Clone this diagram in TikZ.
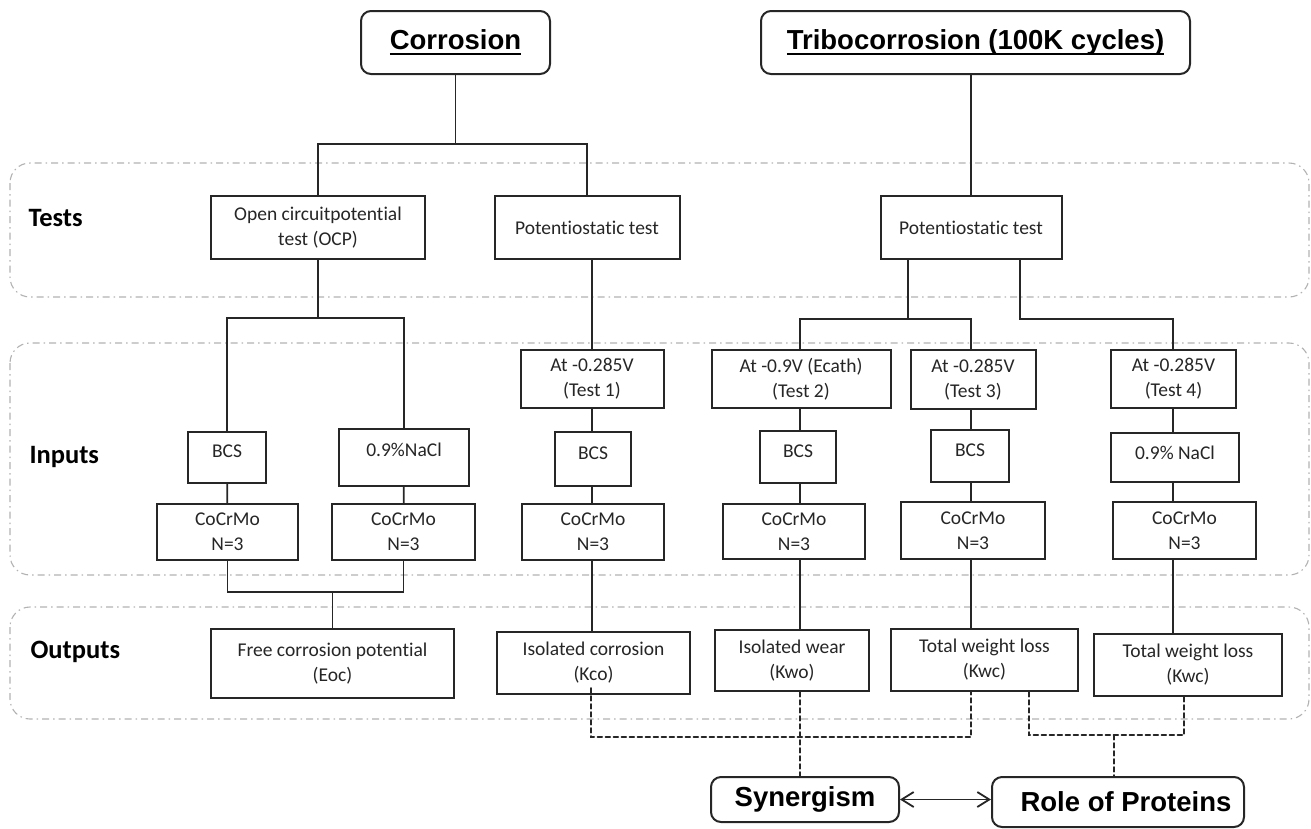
\documentclass[tikz,border=0pt]{standalone}
\usepackage{fontspec}
\setmainfont{Carlito}[RawFeature=-liga]
\newfontfamily\arialfont{Liberation Sans}
\usetikzlibrary{arrows.meta,backgrounds}
\newcommand{\ulhead}[1]{\sbox0{#1}\rlap{\usebox0}\rule[-6pt]{\wd0}{2.2pt}}

\begin{document}
\begin{tikzpicture}[x=1pt,y=-1pt,>={Straight Barb[length=12pt,width=15pt]},line cap=round,
  box/.style={draw=black!85,line width=2pt,fill=white,inner sep=0pt,align=center,text=black!85,font=\fontsize{19.5}{25}\selectfont},
  highbox/.style={box,text depth=12pt},
  headbox/.style={draw=black!85,line width=2pt,fill=white,rounded corners=10pt,inner sep=0pt,font=\arialfont\bfseries\fontsize{27.5}{30}\selectfont},
  band/.style={draw=black!30,line width=1.1pt,rounded corners=20pt,dash pattern=on 7pt off 4pt on 1.5pt off 4pt},
  rowlabel/.style={anchor=west,font=\bfseries\fontsize{26.5}{30}\selectfont},
  conn/.style={draw=black!85,line width=1.8pt},
  dconn/.style={draw=black!85,line width=2pt,dash pattern=on 4.5pt off 3.5pt}]
\useasboundingbox (0,0) rectangle (1311,828);
\node[headbox,minimum width=189pt,minimum height=63pt] (cor) at (455.5,42.5) {\ulhead{Corrosion}};
\node[headbox,minimum width=429pt,minimum height=63pt] (tri) at (975.5,42.5) {\ulhead{Tribocorrosion (100K cycles)}};
\node[rowlabel] (lbtests) at (25,218) {Tests};
\node[rowlabel] (lbinputs) at (26,457) {Inputs};
\node[rowlabel] (lboutputs) at (27,652) {Outputs};
\node[box,minimum width=214pt,minimum height=63pt] (ocp) at (318,227.5) {Open circuitpotential\\test (OCP)};
\node[box,minimum width=185pt,minimum height=63pt] (pot1) at (587,227.5) {Potentiostatic test};
\node[box,minimum width=181pt,minimum height=63pt] (pot2) at (971,227.5) {Potentiostatic test};
\node[box,minimum width=143pt,minimum height=58pt] (t1) at (592,379) {At -0.285V\\(Test 1)};
\node[box,minimum width=179pt,minimum height=58pt] (t2) at (801,379) {At -0.9V (Ecath)\\(Test 2)};
\node[box,minimum width=125pt,minimum height=59pt] (t3) at (973,379.5) {At -0.285V\\(Test 3)};
\node[box,minimum width=125pt,minimum height=58pt] (t4) at (1173.5,379) {At -0.285V\\(Test 4)};
\node[highbox,minimum width=78pt,minimum height=51pt] (bcs1) at (227,457.5) {BCS};
\node[highbox,text depth=15pt,minimum width=130pt,minimum height=57pt] (nacl1) at (404,457.5) {0.9\%NaCl};
\node[highbox,minimum width=76pt,minimum height=54pt] (bcs3) at (593,459) {BCS};
\node[highbox,minimum width=76pt,minimum height=52pt] (bcs4) at (798,457) {BCS};
\node[highbox,minimum width=78pt,minimum height=52pt] (bcs5) at (970,456) {BCS};
\node[highbox,text depth=10pt,minimum width=128pt,minimum height=49pt] (nacl6) at (1175,457.5) {0.9\% NaCl};
\node[box,minimum width=141pt,minimum height=56pt] (co1) at (227.5,532) {CoCrMo\\N=3};
\node[box,minimum width=143pt,minimum height=56pt] (co2) at (403.5,532) {CoCrMo\\N=3};
\node[box,minimum width=142pt,minimum height=56pt] (co3) at (593,532) {CoCrMo\\N=3};
\node[box,minimum width=142pt,minimum height=55pt] (co4) at (794,531.5) {CoCrMo\\N=3};
\node[box,minimum width=144pt,minimum height=57pt] (co5) at (973,530.5) {CoCrMo\\N=3};
\node[box,minimum width=143pt,minimum height=57pt] (co6) at (1184.5,530.5) {CoCrMo\\N=3};
\node[box,minimum width=243pt,minimum height=69pt] (free) at (332.5,663.5) {Free corrosion potential\\(Eoc)};
\node[box,minimum width=193pt,minimum height=62pt] (kco) at (593.5,663) {Isolated corrosion\\(Kco)};
\node[box,minimum width=154pt,minimum height=61pt] (kwo) at (792,660.5) {Isolated wear\\(Kwo)};
\node[box,minimum width=187pt,minimum height=62pt] (kwc1) at (984.5,660) {Total weight loss\\(Kwc)};
\node[box,minimum width=188pt,minimum height=62pt] (kwc2) at (1188,665) {Total weight loss\\(Kwc)};
\node[headbox,minimum width=188pt,minimum height=45pt] (syn) at (805,799.5) {Synergism};
\node[headbox,minimum width=252pt,minimum height=50pt] (rop) at (1118,802) {\hspace{16pt}Role of Proteins};
\coordinate (x3) at (592,0);
\coordinate (x4) at (800,0);
\coordinate (x5) at (971,0);
\coordinate (x6) at (1173,0);
\coordinate (jc) at (455.5,144);
\coordinate (jo) at (318,318);
\coordinate (jf) at (332.5,592);
\coordinate (jt) at (908,319);
\coordinate (ju) at (1020,319);
\coordinate (dk) at (971,737);
\coordinate (dr) at (1114,735);
\begin{scope}[on background layer]
\draw[band] (10,163) rectangle (1309,297);
\draw[band] (10,343) rectangle (1309,575);
\draw[band] (10,607) rectangle (1309,719);
\draw[conn] (cor.south) -- (jc);
\draw[conn] (ocp.north) |- (jc) -| (pot1.north);
\draw[conn] (ocp.south) -- (jo);
\draw[conn] (bcs1.north) |- (jo) -| (nacl1.north);
\draw[conn] (bcs1) -- (co1);
\draw[conn] (nacl1) -- (co2);
\draw[conn] (co1.south) |- (jf) -| (co2.south);
\draw[conn] (jf) -- (free.north);
\draw[conn] (pot1.south -| x3) -- (kco.north -| x3);
\draw[conn] (tri.south -| pot2) -- (pot2.north);
\draw[conn] (pot2.south -| jt) -- (jt);
\draw[conn] (t2.north -| x4) |- (jt) -| (t3.north -| x5);
\draw[conn] (pot2.south -| ju) -- (ju) -| (t4.north -| x6);
\draw[conn] (t2.south -| x4) -- (kwo.north -| x4);
\draw[conn] (t3.south -| x5) -- (kwc1.north -| x5);
\draw[conn] (t4.south -| x6) -- (kwc2.north -| x6);
\end{scope}
\draw[dconn] ([xshift=-3pt,yshift=7pt]kco.south) |- (dk) -- (kwc1.south -| dk);
\draw[dconn] (kwo.south -| x4) -- (syn.north -| x4);
\draw[dconn] ([xshift=44pt]kwc1.south) |- (dr) -| ([xshift=-4pt]kwc2.south);
\draw[dconn] (dr) -- (rop.north -| dr);
\draw[conn,<->] (syn.east) -- (syn.east -| rop.west);
\end{tikzpicture}
\end{document}
